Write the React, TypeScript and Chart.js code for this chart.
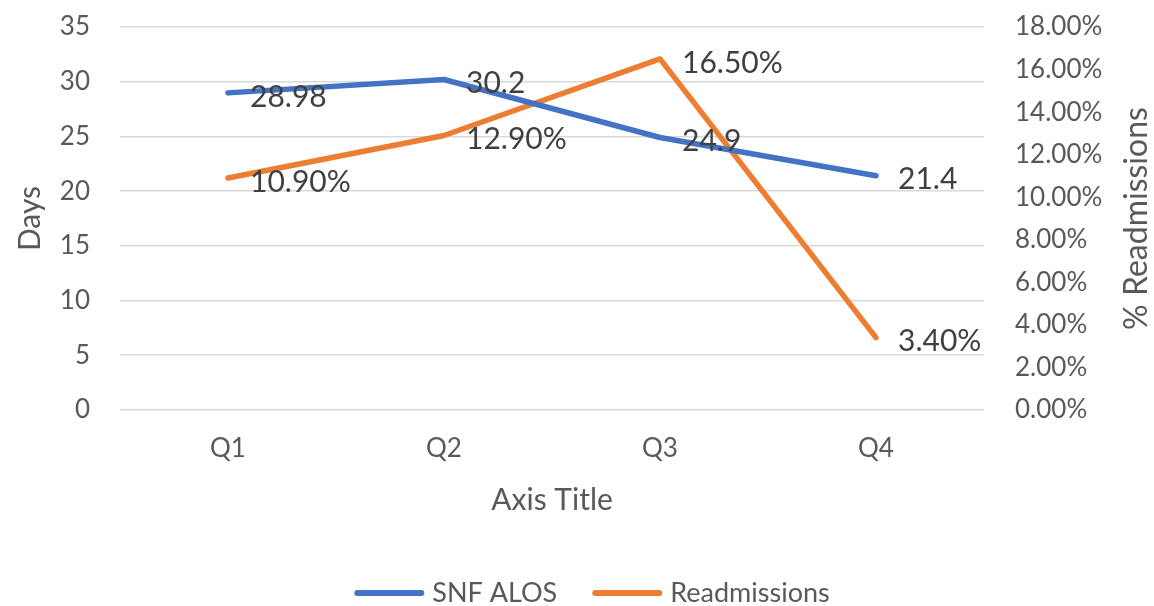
import React, { useEffect, useRef } from "react";
import { Chart, registerables } from "chart.js";

Chart.register(...registerables);

const categories = ["Q1", "Q2", "Q3", "Q4"];
const alosValues = [28.98, 30.2, 24.9, 21.4];
const readmissionValues = [0.109, 0.129, 0.165, 0.034];
const alosLabels = ["28.98", "30.2", "24.9", "21.4"];
const readmissionLabels = ["10.90%", "12.90%", "16.50%", "3.40%"];
const seriesNames = ["SNF ALOS", "Readmissions"];
const leftAxis = { min: 0, max: 35, step: 5, title: "Days" };
const rightAxis = { min: 0, max: 0.18, step: 0.02, title: "% Readmissions" };
const xAxisTitle = "Axis Title";

const FONT = "Lato, 'Open Sans', sans-serif";
const TICK_COLOR = "#595959";
const LABEL_COLOR = "#404040";
const BLUE = "#4472C4";
const ORANGE = "#ED7D31";

const dataLabelPlugin = {
  id: "dataLabelPlugin",
  afterDatasetsDraw(chart: any) {
    const ctx = chart.ctx;
    ctx.save();
    ctx.font = `30px ${FONT}`;
    ctx.fillStyle = LABEL_COLOR;
    ctx.textAlign = "left";
    ctx.textBaseline = "middle";
    chart.data.datasets.forEach((ds: any, i: number) => {
      const meta = chart.getDatasetMeta(i);
      meta.data.forEach((pt: any, j: number) => {
        ctx.fillText(ds.valueLabels[j], pt.x + 22, pt.y + 4);
      });
    });
    ctx.restore();
  },
};

const extrasPlugin = {
  id: "extrasPlugin",
  afterDraw(chart: any) {
    const ctx = chart.ctx;
    const area = chart.chartArea;
    ctx.save();
    // right axis title, reading bottom-to-top
    ctx.font = `32px ${FONT}`;
    ctx.fillStyle = TICK_COLOR;
    ctx.textAlign = "center";
    ctx.textBaseline = "middle";
    ctx.translate(1137, (area.top + area.bottom) / 2);
    ctx.rotate(-Math.PI / 2);
    ctx.fillText(rightAxis.title, 0, 0);
    ctx.restore();

    // legend
    ctx.save();
    ctx.font = `27px ${FONT}`;
    ctx.textBaseline = "middle";
    ctx.textAlign = "left";
    const lineW = 70;
    const gapText = 8;
    const gapItem = 35;
    const items = chart.data.datasets.map((ds: any) => ({
      label: ds.label,
      color: ds.borderColor,
      w: lineW + gapText + ctx.measureText(ds.label).width,
    }));
    const total =
      items.reduce((s: number, it: any) => s + it.w, 0) + gapItem * (items.length - 1);
    let x = 592 - total / 2;
    const y = 593;
    items.forEach((it: any) => {
      ctx.strokeStyle = it.color;
      ctx.lineWidth = 6;
      ctx.lineCap = "round";
      ctx.beginPath();
      ctx.moveTo(x + 3, y);
      ctx.lineTo(x + lineW - 3, y);
      ctx.stroke();
      ctx.fillStyle = TICK_COLOR;
      ctx.fillText(it.label, x + lineW + gapText, y);
      x += it.w + gapItem;
    });
    ctx.restore();
  },
};

export default function App() {
  const canvasRef = useRef<HTMLCanvasElement | null>(null);

  useEffect(() => {
    const canvas = canvasRef.current;
    if (!canvas) return;
    const chart = new Chart(canvas, {
      type: "line",
      data: {
        labels: categories,
        datasets: [
          {
            label: seriesNames[0],
            data: alosValues,
            valueLabels: alosLabels,
            borderColor: BLUE,
            backgroundColor: BLUE,
            borderWidth: 5.5,
            pointRadius: 0,
            tension: 0,
            borderCapStyle: "round",
            borderJoinStyle: "round",
            yAxisID: "y",
          } as any,
          {
            label: seriesNames[1],
            data: readmissionValues,
            valueLabels: readmissionLabels,
            borderColor: ORANGE,
            backgroundColor: ORANGE,
            borderWidth: 5.5,
            pointRadius: 0,
            tension: 0,
            borderCapStyle: "round",
            borderJoinStyle: "round",
            yAxisID: "y1",
          } as any,
        ],
      },
      options: {
        responsive: false,
        animation: false,
        devicePixelRatio: 1,
        layout: { padding: { top: 27, left: 0, right: 0, bottom: 0 } },
        plugins: {
          legend: { display: false },
          tooltip: { enabled: false },
        },
        scales: {
          x: {
            offset: true,
            grid: { display: false, drawTicks: false },
            border: { display: false },
            ticks: {
              padding: 23,
              color: TICK_COLOR,
              font: { family: FONT, size: 26 },
            },
            title: {
              display: true,
              text: xAxisTitle,
              color: TICK_COLOR,
              font: { family: FONT, size: 30 },
              padding: { top: 0, bottom: 88 },
            },
            afterFit(scale: any) {
              scale.height = 196;
              scale.paddingLeft = 0;
              scale.paddingRight = 0;
            },
          },
          y: {
            position: "left",
            min: leftAxis.min,
            max: leftAxis.max,
            grid: { color: "#d9d9d9", lineWidth: 1.6, drawTicks: false },
            border: { display: false },
            ticks: {
              stepSize: leftAxis.step,
              padding: 30,
              color: TICK_COLOR,
              font: { family: FONT, size: 26 },
            },
            title: {
              display: true,
              text: leftAxis.title,
              color: TICK_COLOR,
              font: { family: FONT, size: 30 },
              padding: { top: 12, bottom: 0 },
            },
            afterFit(scale: any) {
              scale.width = 120;
              scale.paddingTop = 0;
              scale.paddingBottom = 0;
            },
          },
          y1: {
            position: "right",
            min: rightAxis.min,
            max: rightAxis.max,
            grid: { display: false, drawTicks: false },
            border: { display: false },
            ticks: {
              stepSize: rightAxis.step,
              padding: 31,
              color: TICK_COLOR,
              font: { family: FONT, size: 26 },
              callback: (v: any) => (Number(v) * 100).toFixed(2) + "%",
            },
            afterFit(scale: any) {
              scale.width = 170;
              scale.paddingTop = 0;
              scale.paddingBottom = 0;
            },
          },
        },
      } as any,
      plugins: [dataLabelPlugin, extrasPlugin],
    });
    return () => chart.destroy();
  }, []);

  return (
    <div
      style={{
        position: "fixed",
        left: 0,
        top: 0,
        width: 1154,
        height: 606,
        background: "#ffffff",
      }}
    >
      <canvas
        ref={canvasRef}
        width={1154}
        height={606}
        style={{ width: 1154, height: 606, display: "block" }}
      />
    </div>
  );
}
